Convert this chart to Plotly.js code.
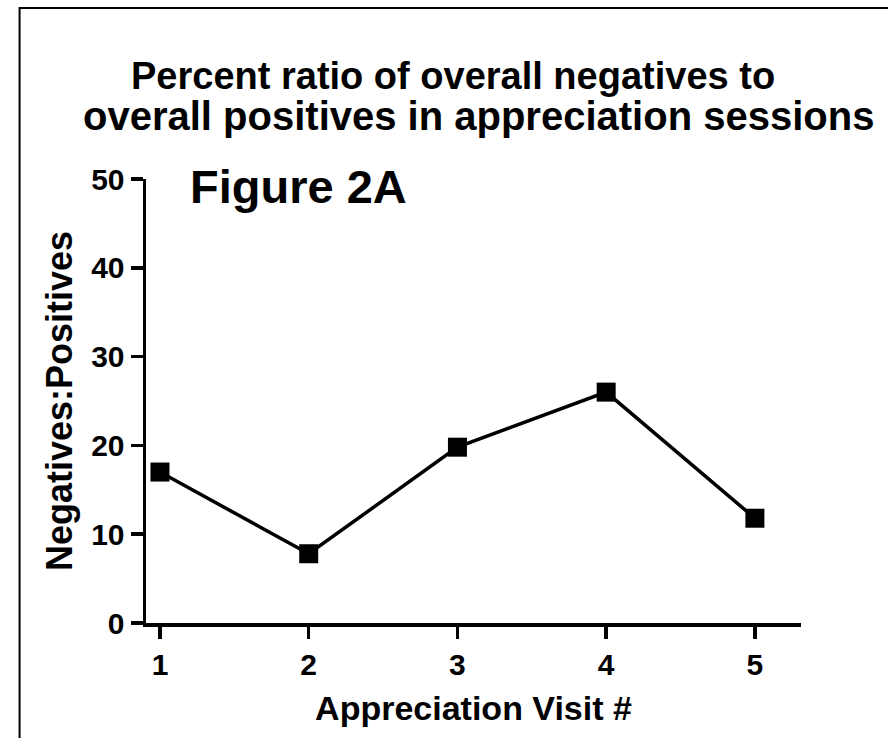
<!DOCTYPE html>
<html><head><meta charset="utf-8">
<script src="https://cdn.plot.ly/plotly-3.0.1.min.js"></script>
<style>html,body{margin:0;padding:0;background:#fff;}#chart{width:888px;height:738px;}</style>
</head><body><div id="chart"></div>
<script>
var visits = [1, 2, 3, 4, 5];
var ratios = [17, 7.8, 19.8, 26, 11.8];
var xTickLabels = ['1', '2', '3', '4', '5'];
var yTicks = [0, 10, 20, 30, 40, 50];
var titleLines = ['Percent ratio of overall negatives to', 'overall positives in appreciation sessions'];

var F = 'Liberation Sans, Arial, Helvetica, sans-serif';
var trace = {
  x: visits, y: ratios, type: 'scatter', mode: 'lines+markers',
  line: {color: '#000', width: 3.5},
  marker: {symbol: 'square', size: 19, color: '#000'},
  cliponaxis: false, hoverinfo: 'x+y'
};
var layout = {
  width: 888, height: 738,
  margin: {l: 146, r: 87, t: 179, b: 115},
  paper_bgcolor: '#fff', plot_bgcolor: '#fff',
  showlegend: false,
  font: {family: F, color: '#000'},
  xaxis: {range: [0.906, 5.31], tickvals: visits, ticktext: xTickLabels.map(function(t){return '<b>'+t+'</b>';}),
    showline: true, linewidth: 3.5, linecolor: '#000', ticks: 'outside', ticklen: 12, tickwidth: 3.5, tickcolor: '#000',
    showgrid: false, zeroline: false, tickfont: {family: F, size: 30, color: '#000'},
    title: {text: '<b>Appreciation Visit #</b>', font: {family: F, size: 34, color: '#000'}, standoff: 17}},
  yaxis: {range: [0, 50], tickvals: yTicks, ticktext: yTicks.map(function(t){return '<b>'+t+'</b>';}),
    showline: true, linewidth: 3.5, linecolor: '#000', ticks: 'outside', ticklen: 12, tickwidth: 3.5, tickcolor: '#000',
    showgrid: false, zeroline: false, tickfont: {family: F, size: 30, color: '#000'},
    title: {text: '<b>Negatives:Positives</b>', font: {family: F, size: 36, color: '#000'}, standoff: 8}},
  annotations: [
    {text: '<b>' + titleLines[0] + '</b>', xref: 'paper', yref: 'paper', x: 0.469, y: 1.232, xanchor: 'center', yanchor: 'middle',
      showarrow: false, font: {family: F, size: 38, color: '#000'}},
    {text: '<b>' + titleLines[1] + '</b>', xref: 'paper', yref: 'paper', x: 0.508, y: 1.142, xanchor: 'center', yanchor: 'middle',
      showarrow: false, font: {family: F, size: 40, color: '#000'}},
    {text: '<b>Figure 2A</b>', xref: 'paper', yref: 'paper', x: 0.064, y: 0.984, xanchor: 'left', yanchor: 'middle',
      showarrow: false, font: {family: F, size: 47, color: '#000'}}
  ],
  shapes: [{type: 'rect', xref: 'paper', yref: 'paper', x0: -0.193, x1: 1.2, y0: -0.3, y1: 1.385,
    line: {color: '#000', width: 2}, fillcolor: 'rgba(0,0,0,0)', layer: 'below'}]
};
Plotly.newPlot('chart', [trace], layout, {displayModeBar: false, staticPlot: true});
</script></body></html>
